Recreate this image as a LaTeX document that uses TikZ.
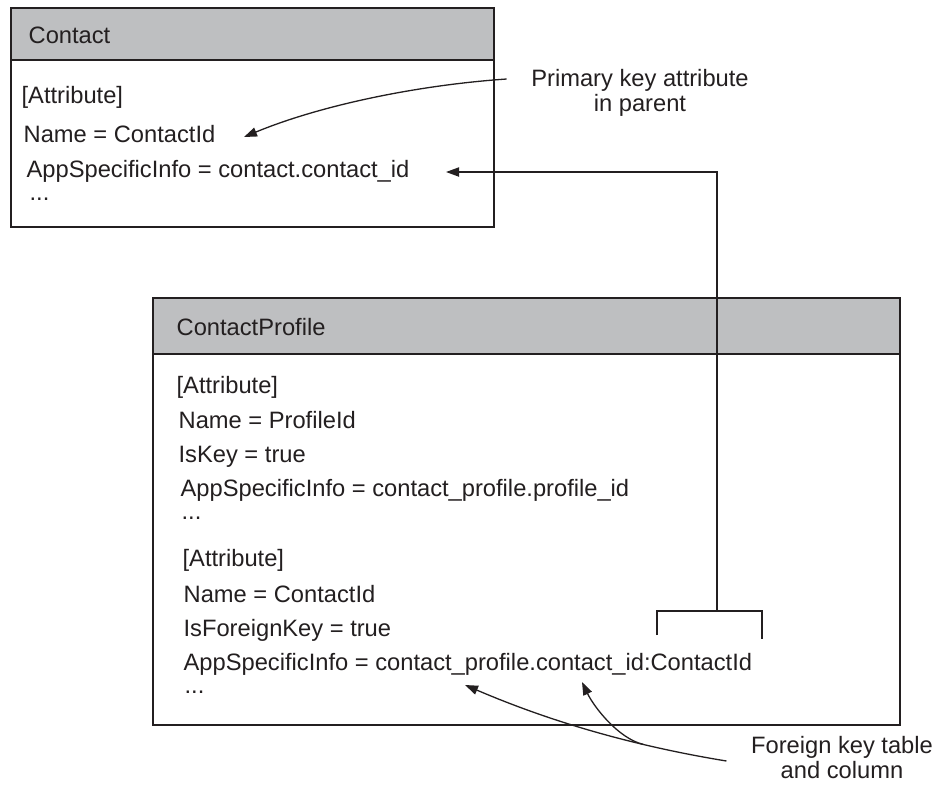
\documentclass[tikz,border=0pt]{standalone}
\usepackage{fontspec}
\setmainfont{Liberation Sans}
\usetikzlibrary{arrows.meta}
\definecolor{headgray}{RGB}{190,191,193}
\definecolor{ink}{RGB}{35,31,32}

\begin{document}
\begin{tikzpicture}[x=0.5pt,y=-0.5pt,line width=0.65pt,color=ink,
    font=\fontsize{11.85}{12.5}\selectfont]
    \tikzstyle{ptr}=[-{Triangle[length=6.5pt,width=4.6pt]}]
    \tikzstyle{table head}=[draw, fill=headgray, line width=0.8pt, anchor=north west, inner sep=0pt]
    \tikzstyle{table body}=[draw, fill=white, line width=0.8pt, anchor=north west, inner sep=0pt]
    \tikzstyle{field}=[anchor=base west, inner sep=0pt]
    \tikzstyle{note}=[align=center, inner sep=0pt]

    \useasboundingbox (0,0) rectangle (937,784);

    % Draw the parent table
    \node[table head, minimum width=241.5pt, minimum height=26pt] (C-head) at (10,7) {};
    \node[table body, minimum width=241.5pt, minimum height=83.5pt] (C-body) at (10,59) {};
    \node[field] (C-title) at (28,43) {Contact};
    \foreach \name/\x/\y/\txt in {1/21/103/{[Attribute]},
                                  2/23/142/{Name = ContactId},
                                  3/26/177/{AppSpecificInfo = contact.contact\_id},
                                  4/29/200/{...}}
        \node[field] (C-\name) at (\x,\y) {\txt};

    % Draw the child table
    \node[table head, minimum width=373.5pt, minimum height=28pt] (P-head) at (152,297) {};
    \node[table body, minimum width=373.5pt, minimum height=185.5pt] (P-body) at (152,353) {};
    \node[field] (P-title) at (176,335) {ContactProfile};
    \foreach \name/\x/\y/\txt in {1/176/393/{[Attribute]},
                                  2/178/428/{Name = ProfileId},
                                  3/178/462/{IsKey = true},
                                  4/180/496/{AppSpecificInfo = contact\_profile.profile\_id},
                                  5/181/519/{...},
                                  6/182/566/{[Attribute]},
                                  7/183/602/{Name = ContactId},
                                  8/183/636/{IsForeignKey = true},
                                  9/183/670/{AppSpecificInfo = contact\_profile.contact\_id:ContactId},
                                  10/184/693/{...}}
        \node[field] (P-\name) at (\x,\y) {\txt};

    % Annotate
    \node[note] (pk) at (640,93) {Primary key attribute\\in parent};
    \node[note] (fk) at (842,758) {Foreign key table\\and column};

    % Bracket over the referenced column
    \coordinate (brk) at (717,611);
    \draw (657,635) -- (657,611) -- (762,611) -- (762,639);
    \coordinate (fk-table) at (465,685);
    \coordinate (fk-col) at (582,682);

    % Connect the foreign key with the parent key
    \draw[ptr] (brk) |- ([shift={(36,-5)}]C-3.base east);

    \draw[ptr] ([shift={(-24,-14)}]pk.west) .. controls +(-88,6) and +(77,-32) .. ([shift={(28,-5)}]C-2.base east);

    \draw[ptr] ([shift={(-24,3)}]fk.west) .. controls +(-110,-18) and +(70,30) .. (fk-table)
        coordinate[pos=0.27] (fk-join);
    \draw[ptr] (fk-join) .. controls +(-25,-6) and +(12,25) .. (fk-col);

\end{tikzpicture}
\end{document}
